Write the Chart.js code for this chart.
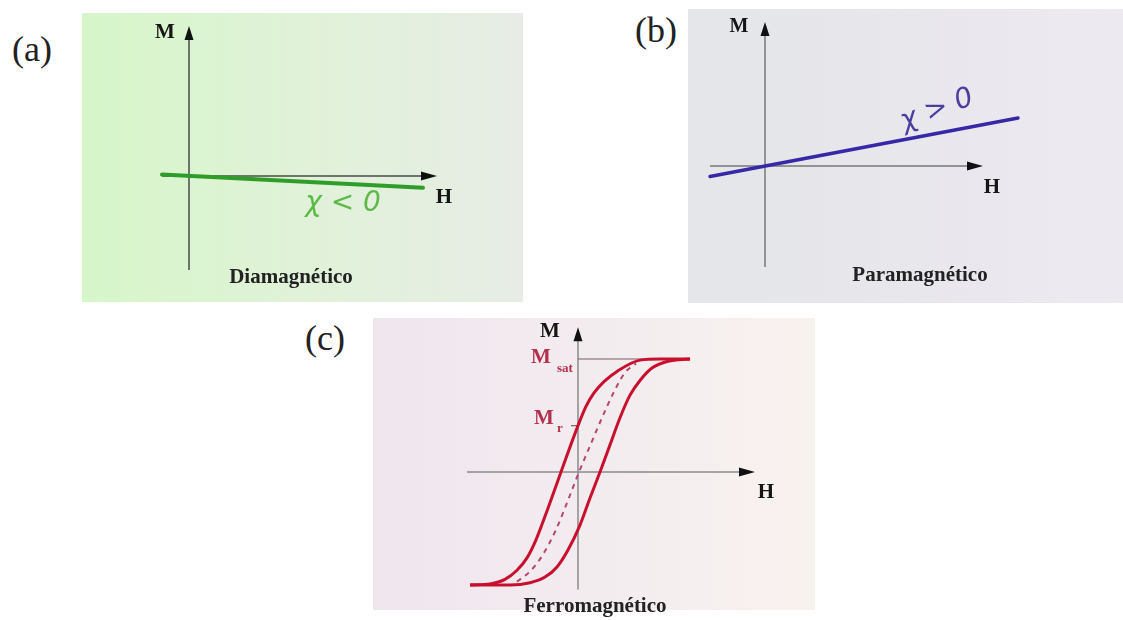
<!DOCTYPE html>
<html><head><meta charset="utf-8">
<script src="https://cdn.jsdelivr.net/npm/chart.js@4/dist/chart.umd.min.js"></script>
<style>
html,body{margin:0;padding:0;background:#fff;width:1123px;height:620px;overflow:hidden}
body{position:relative}
.box{position:absolute}
.lbl{position:absolute;font-family:"Liberation Serif","Times New Roman",serif;font-size:36px;color:#222;line-height:36px}
</style></head><body>
<div class="lbl" style="left:12px;top:31px">(a)</div>
<div class="lbl" style="left:635px;top:12px">(b)</div>
<div class="lbl" style="left:305px;top:320px">(c)</div>
<div class="box" style="left:82px;top:13px;width:441px;height:289px"><canvas id="ca"></canvas></div>
<div class="box" style="left:688px;top:9px;width:435px;height:294px"><canvas id="cb"></canvas></div>
<div class="box" style="left:373px;top:318px;width:442px;height:302px"><canvas id="cc"></canvas></div>
<script>
// ---- data (arbitrary units) ----
// (a) diamagnetic: M vs H, chi < 0
const diaH = [-0.27, 2.34];
const diaM = [0.014, -0.117];
// (b) paramagnetic: chi > 0
const paraH = [-0.55, 2.53];
const paraM = [-0.105, 0.48];
// (c) ferromagnetic hysteresis loop (M normalised to Msat = 1)
const loopUpperH = [-1.08, -0.88, -0.73, -0.61, -0.51, -0.42, -0.30, -0.17, 0.0, 0.08, 0.16, 0.26, 0.39, 0.62, 0.82, 1.12];
const loopUpperM = [-1.0, -0.99, -0.95, -0.87, -0.76, -0.60, -0.32, 0.0, 0.41, 0.58, 0.70, 0.80, 0.89, 0.99, 1.0, 1.0];
const loopLowerH = [-1.08, -0.68, -0.48, -0.33, -0.21, -0.10, 0.02, 0.12, 0.22, 0.32, 0.42, 0.52, 0.62, 0.74, 0.90, 1.12];
const loopLowerM = [-1.0, -1.0, -0.98, -0.93, -0.84, -0.69, -0.47, -0.23, 0.0, 0.24, 0.48, 0.68, 0.81, 0.92, 0.98, 1.0];
const virginH = [-0.61, -0.48, -0.35, -0.22, -0.10, 0.01, 0.12, 0.24, 0.36, 0.47, 0.58];
const virginM = [-0.97, -0.88, -0.73, -0.51, -0.25, 0.0, 0.23, 0.48, 0.71, 0.88, 0.96];
const mSat = 1.0;
const mRem = 0.41;
const mSatLineEndH = 1.12;

const pts = (xs, ys) => xs.map((x, i) => ({x, y: ys[i]}));
const SERIF = '"Liberation Serif","Times New Roman",serif';

function arrowHead(ctx, x, y, dir, len, hw) {
  ctx.beginPath();
  if (dir === 'up') { ctx.moveTo(x, y); ctx.lineTo(x - hw, y + len); ctx.lineTo(x + hw, y + len); }
  else { ctx.moveTo(x, y); ctx.lineTo(x - len, y - hw); ctx.lineTo(x - len, y + hw); }
  ctx.closePath(); ctx.fillStyle = '#111'; ctx.fill();
}

function makePanel(id, cfg) {
  const plugin = {
    id: 'deco_' + id,
    beforeDraw(chart) {
      const ctx = chart.ctx, w = chart.width, h = cfg.bgHeight || chart.height;
      const g = ctx.createLinearGradient(0, 0, w, 0);
      cfg.bg.forEach((c, i) => g.addColorStop(i / (cfg.bg.length - 1), c));
      ctx.save(); ctx.fillStyle = g; ctx.fillRect(0, 0, w, h);
      ctx.restore();
    },
    beforeDatasetsDraw(chart) {
      const ctx = chart.ctx, xs = chart.scales.x, ys = chart.scales.y;
      const x0 = xs.getPixelForValue(0), y0 = ys.getPixelForValue(0);
      const a = cfg.axes;
      ctx.save();
      ctx.strokeStyle = cfg.axisColor; ctx.lineWidth = 1.5;
      const mTop = ys.getPixelForValue(a.mTo), mBot = ys.getPixelForValue(a.mFrom);
      ctx.beginPath(); ctx.moveTo(x0, mBot); ctx.lineTo(x0, mTop + 6); ctx.stroke();
      arrowHead(ctx, x0, mTop, 'up', 14, 4.5);
      const hL = xs.getPixelForValue(a.hFrom), hR = xs.getPixelForValue(a.hTo);
      ctx.beginPath(); ctx.moveTo(hL, y0); ctx.lineTo(hR - 8, y0); ctx.stroke();
      arrowHead(ctx, hR, y0, 'right', 16, 4.5);
      if (cfg.extra) cfg.extra(chart, ctx, xs, ys);
      ctx.restore();
    },
    afterDatasetsDraw(chart) {
      const ctx = chart.ctx, xs = chart.scales.x, ys = chart.scales.y;
      const a = cfg.axes;
      const x0 = xs.getPixelForValue(0), y0 = ys.getPixelForValue(0);
      const mTop = ys.getPixelForValue(a.mTo), hR = xs.getPixelForValue(a.hTo);
      ctx.save();
      ctx.textAlign = 'center'; ctx.textBaseline = 'middle';
      ctx.fillStyle = '#151515';
      ctx.font = 'bold ' + cfg.mSize + 'px ' + SERIF;
      ctx.fillText('M', x0 + cfg.mOff[0], mTop + cfg.mOff[1]);
      ctx.font = 'bold ' + cfg.hSize + 'px ' + SERIF;
      ctx.fillText('H', hR + cfg.hOff[0], y0 + cfg.hOff[1]);
      ctx.font = 'bold 21px ' + SERIF;
      ctx.fillStyle = '#222';
      ctx.fillText(cfg.caption, xs.getPixelForValue(cfg.capPos[0]), ys.getPixelForValue(cfg.capPos[1]));
      if (cfg.labels) cfg.labels(chart, ctx, xs, ys);
      ctx.restore();
    }
  };
  return new Chart(document.getElementById(id), {
    type: 'line',
    data: { datasets: cfg.datasets },
    options: {
      responsive: true, maintainAspectRatio: false, animation: false,
      layout: { padding: 0 },
      plugins: { legend: { display: false }, tooltip: { enabled: false } },
      elements: { point: { radius: 0 } },
      scales: {
        x: { type: 'linear', min: cfg.xr[0], max: cfg.xr[1], display: false },
        y: { type: 'linear', min: cfg.yr[0], max: cfg.yr[1], display: false }
      }
    },
    plugins: [plugin]
  });
}

// (a) Diamagnetico
makePanel('ca', {
  xr: [-1.07, 3.34], yr: [-1.26, 1.63],
  bg: ['#d6f6c9', '#e0f2d8', '#e7ece5'],
  axisColor: '#4a4a4a',
  axes: { hFrom: -0.27, hTo: 2.48, mFrom: -0.94, mTo: 1.50 },
  mSize: 21, mOff: [-24, 7], hSize: 21, hOff: [7, 22],
  caption: 'Diamagnético', capPos: [1.02, -1.02],
  datasets: [{ data: pts(diaH, diaM), borderColor: '#2f9d2a', borderWidth: 4, borderCapStyle: 'round' }],
  labels(chart, ctx, xs, ys) {
    ctx.font = 'italic 28px "DejaVu Sans", sans-serif';
    ctx.fillStyle = '#5cba48';
    ctx.fillText('χ < 0', xs.getPixelForValue(1.54), ys.getPixelForValue(-0.28));
  }
});

// (b) Paramagnetico
makePanel('cb', {
  xr: [-0.77, 3.58], yr: [-1.37, 1.57],
  bg: ['#e4e6e9', '#e8e7ec', '#ede9f0'],
  axisColor: '#777',
  axes: { hFrom: -0.55, hTo: 2.18, mFrom: -1.01, mTo: 1.44 },
  mSize: 20, mOff: [-26, 5], hSize: 21, hOff: [9, 22],
  caption: 'Paramagnético', capPos: [1.55, -1.10],
  datasets: [{ data: pts(paraH, paraM), borderColor: '#3628a6', borderWidth: 3.5, borderCapStyle: 'round' }],
  labels(chart, ctx, xs, ys) {
    ctx.save();
    ctx.translate(xs.getPixelForValue(1.72), ys.getPixelForValue(0.56));
    ctx.rotate(-20 * Math.PI / 180);
    ctx.font = 'italic 28px "DejaVu Sans", sans-serif';
    ctx.fillStyle = '#4a3f9e';
    ctx.fillText('χ > 0', 0, 0);
    ctx.restore();
  }
});

// (c) Ferromagnetico
makePanel('cc', {
  xr: [-2.05, 2.37], yr: [-1.3097, 1.3628], bgHeight: 292,
  bg: ['#efe6ee', '#f3ecef', '#f8f2ef'],
  axisColor: '#8a8a8a',
  axes: { hFrom: -1.11, hTo: 1.77, mFrom: -1.04, mTo: 1.28 },
  mSize: 21, mOff: [-28, 4], hSize: 21, hOff: [11, 21],
  caption: 'Ferromagnético', capPos: [0.17, -1.188],
  datasets: [
    { data: pts(virginH, virginM), borderColor: '#b8456f', borderWidth: 2, borderDash: [5, 5], cubicInterpolationMode: 'monotone' },
    { data: pts(loopUpperH, loopUpperM), borderColor: '#c8102e', borderWidth: 3, cubicInterpolationMode: 'monotone' },
    { data: pts(loopLowerH, loopLowerM), borderColor: '#c8102e', borderWidth: 3, cubicInterpolationMode: 'monotone' }
  ],
  extra(chart, ctx, xs, ys) {
    const x0 = xs.getPixelForValue(0);
    const yS = ys.getPixelForValue(mSat), yR = ys.getPixelForValue(mRem);
    ctx.strokeStyle = '#7d5a68'; ctx.lineWidth = 1.2;
    ctx.beginPath(); ctx.moveTo(x0, yS); ctx.lineTo(xs.getPixelForValue(mSatLineEndH), yS); ctx.stroke();
    ctx.beginPath(); ctx.moveTo(x0 - 7, yR); ctx.lineTo(x0, yR); ctx.stroke();
  },
  labels(chart, ctx, xs, ys) {
    const x0 = xs.getPixelForValue(0);
    const yS = ys.getPixelForValue(mSat), yR = ys.getPixelForValue(mRem);
    ctx.fillStyle = '#b3304f';
    ctx.font = 'bold 21px ' + SERIF;
    ctx.fillText('M', x0 - 37, yS - 1);
    ctx.font = 'bold 13px ' + SERIF;
    ctx.fillText('sat', x0 - 13, yS + 10);
    ctx.font = 'bold 21px ' + SERIF;
    ctx.fillText('M', x0 - 34, yR - 7);
    ctx.font = 'bold 13px ' + SERIF;
    ctx.fillText('r', x0 - 18, yR + 3);
  }
});
</script>
</body></html>
